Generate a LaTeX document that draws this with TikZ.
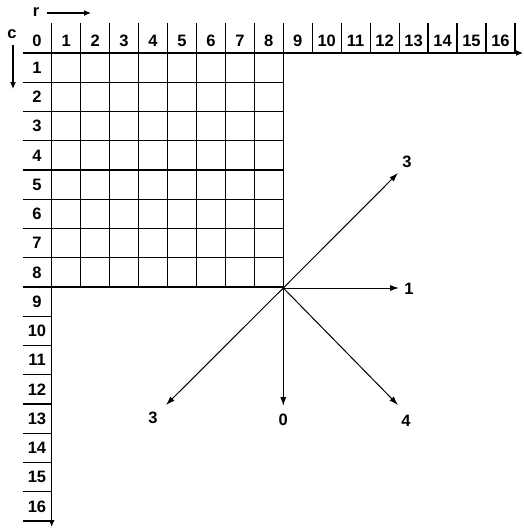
\documentclass[tikz,border=0pt]{standalone}
\usepackage{fontspec}
\setmainfont{Liberation Sans}
\usetikzlibrary{arrows.meta}
\begin{document}
\begin{tikzpicture}[x=1pt, y=-1pt]
    % Styles for the index grid and the direction rays
    \tikzset{
        gridline/.style={line width=1.2pt},
        axis/.style={line width=1.2pt, -{Latex[length=7pt, width=6pt]}},
        ray/.style={line width=1pt, -{Latex[length=9pt, width=6pt]}},
        num/.style={font=\fontsize{16.5}{16.5}\selectfont\bfseries, inner sep=0pt}
    }
    \useasboundingbox (0,0) rectangle (524,528);

    % Axes (cell width 28.95, cell height 29.25)
    \coordinate (rtip) at (523,53);
    \coordinate (ctip) at (51.7,527);
    \draw[axis] (22.5,53) -- (rtip);
    \draw[axis] (51.7,23) -- (ctip);

    % Inner 8x8 block
    \foreach \j in {2,...,9} {
        \draw[gridline] ({51.7+28.95*(\j-1)},23) -- ({51.7+28.95*(\j-1)},287);
    }
    \foreach \i in {1,...,8} {
        \draw[gridline] (22.5,{53+29.25*\i}) -- (283.3,{53+29.25*\i});
    }

    % Header and row cells beyond 8
    \foreach \j in {10,...,17} {
        \draw[gridline] ({51.7+28.95*(\j-1)},23) -- ({51.7+28.95*(\j-1)},53);
    }
    \foreach \i in {9,...,16} {
        \draw[gridline] (22.5,{53+29.25*\i}) -- (51.7,{53+29.25*\i});
    }

    % Column and row numbers
    \node[num] (col0) at (37,41) {0};
    \foreach \k in {1,...,16} {
        \node[num] (col\k) at ({51.7+28.95*(\k-0.5)},41) {\k};
        \node[num] (row\k) at (37,{53+29.25*(\k-0.5)}) {\k};
    }

    % r and c with their arrows
    \node[num] (rlab) at (36,12) {r};
    \coordinate (rend) at (91,13);
    \draw[axis] (47,13) -- (rend);
    \node[num] (clab) at (12,34) {c};
    \coordinate (cend) at (13,89);
    \draw[axis] (13,45) -- (cend);

    % Rays from the corner of the block
    \coordinate (O) at (283.3,288);
    \foreach \name/\x/\y/\lx/\ly/\txt in {
        ne/398/173/407/162/3,
        e/399/288/409/289/1,
        se/398/405/406/421/4,
        s/283.3/406/283.3/420/0,
        sw/166/405/153/418/3%
    } {
        \coordinate (\name) at (\x,\y);
        \node[num] (\name lab) at (\lx,\ly) {\txt};
        \draw[ray] (O) -- (\name);
    }
\end{tikzpicture}
\end{document}
